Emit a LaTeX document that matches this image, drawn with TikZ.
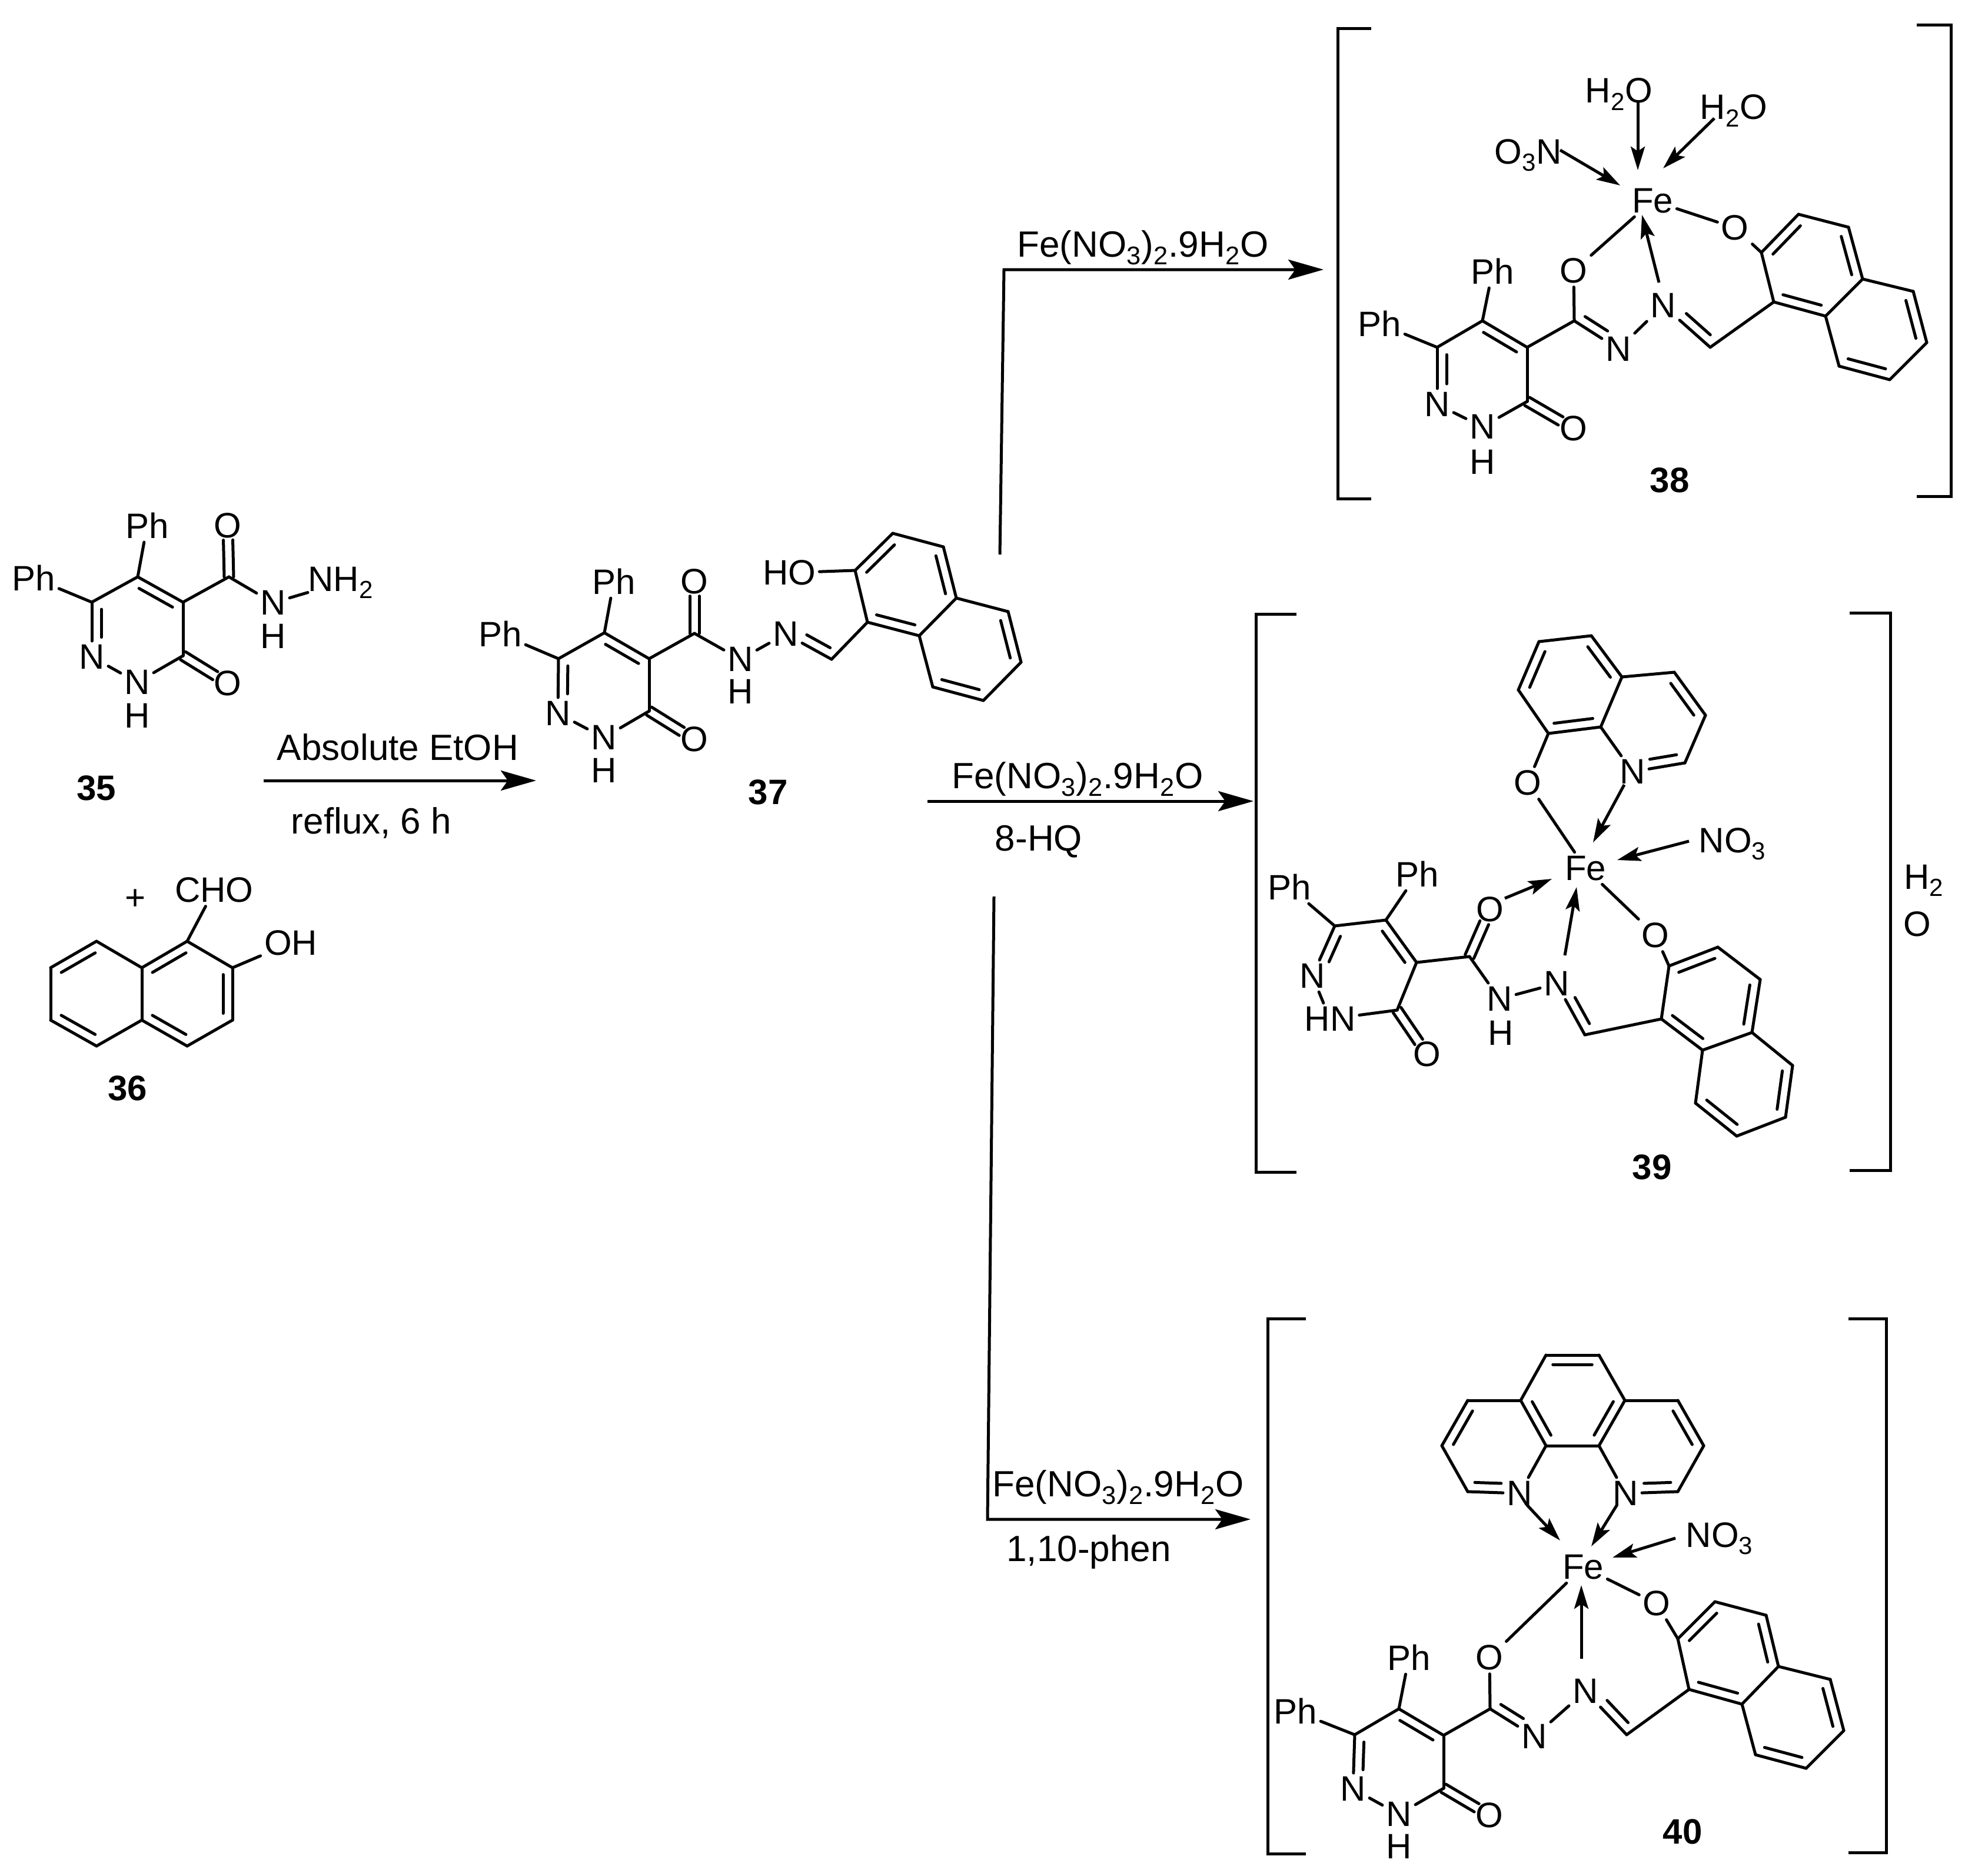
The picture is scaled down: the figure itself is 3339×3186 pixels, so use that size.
\documentclass[tikz,border=0pt]{standalone}
\usepackage{fontspec}
\setmainfont{Liberation Sans}
\usetikzlibrary{calc,arrows.meta}
\newcommand\tsub[1]{\textsubscript{#1}}
\tikzset{
  bond/.style={line width=2.5pt,line cap=round},
  atom/.style={inner sep=3pt,font=\fontsize{30}{32}\selectfont},
  hatom/.style={inner sep=0pt,font=\fontsize{30}{32}\selectfont},
  cond/.style={inner sep=0pt,font=\fontsize{31}{33}\selectfont},
  lab/.style={inner sep=0pt,font=\fontsize{30}{32}\selectfont\bfseries},
  plainmark/.style={inner sep=0pt,font=\fontsize{30}{32}\selectfont},
  dative/.style={line width=2.5pt,-{Stealth[length=20pt,width=12pt,inset=4pt]}},
  rxn/.style={line width=2.5pt,-{Stealth[length=30pt,width=17pt,inset=6pt]}},
  brk/.style={line width=2.5pt,line join=miter}
}
\newcommand\bnd[2]{\draw[bond] (#1) -- (#2);}
% second line of a double bond: {a}{b}{signed offset angle}{frac a}{frac b}
\newcommand\second[5]{\draw[bond] ($(#1)!#4!(#2)!8pt!#3:(#2)$) -- ($(#2)!#5!(#1)!8pt!-#3:(#1)$);}
\newcommand\dr[2]{\bnd{#1}{#2}\second{#1}{#2}{-90}{.13}{.13}}
\newcommand\drh[2]{\bnd{#1}{#2}\second{#1}{#2}{-90}{.13}{.36}}
\newcommand\dlh[2]{\bnd{#1}{#2}\second{#1}{#2}{90}{.13}{.36}}
\newcommand\dsym[2]{%
  \draw[bond] ($(#1)!4pt!90:(#2)$) -- ($(#1)!.72!(#2)!4pt!90:(#2)$);
  \draw[bond] ($(#1)!4pt!-90:(#2)$) -- ($(#1)!.72!(#2)!4pt!-90:(#2)$);}
% pyridazinone core
\newcommand\pyr[1]{%
  \dr{#1C5}{#1C4}\bnd{#1C6}{#1C5}\dlh{#1C6}{#1N1}\bnd{#1N1}{#1N2}\bnd{#1N2}{#1C3}
  \bnd{#1C3}{#1C4}\dsym{#1C3}{#1O3}\bnd{#1C5}{#1Pa}\bnd{#1C6}{#1Pb}\bnd{#1C4}{#1Cam}}
% naphthalene
\newcommand\naph[1]{%
  \bnd{#1A1}{#1A2}\dr{#1A2}{#1A3}\bnd{#1A3}{#1A4}\dr{#1A4}{#1Ax}\bnd{#1Ax}{#1Ay}\dr{#1Ay}{#1A1}
  \dr{#1A5}{#1A6}\bnd{#1A6}{#1A7}\dr{#1A7}{#1A8}\bnd{#1A8}{#1Ay}\bnd{#1Ax}{#1A5}}
\begin{document}
\begin{tikzpicture}[x=.5pt,y=-.5pt]
\useasboundingbox (0,0) rectangle (3339,3186);
% ---------- carbons and free ends
\foreach \nm/\x/\y in {
 aC5/234/980,aC6/156/1023,aC3/311/1114,aC4/311/1023,aCam/389/980,
 bA1/318/1599,bA2/395/1644,bA3/395/1733,bA4/318/1777,bAx/241/1733,bAy/241/1644,bA5/164/1777,bA6/86/1733,bA7/86/1644,bA8/164/1599,
 cC5/1027/1075,cC6/949/1119,cC3/1103/1208,cC4/1103/1119,cCam/1180/1076,cCH/1413/1120,
 cA1/1474/1057,cA2/1453/969,cA3/1517/906,cA4/1603/929,cAx/1625/1016,cAy/1562/1080,cA8/1585/1167,cA7/1671/1190,cA6/1735/1125,cA5/1713/1039,
 dC5/2519/545,dC6/2442/590,dC3/2595/682,dC4/2595/590,dCam/2675/545,dCH/2906/590,
 dA1/3014/513,dA2/2993/429,dA3/3056/364,dA4/3141/386,dAx/3165/474,dAy/3102/537,dA8/3125/622,dA7/3211/645,dA6/3274/582,dA5/3251/495,
 eC5/2355/1563,eC6/2268/1573,eC3/2374/1716,eC4/2407/1635,eCam/2497/1625,eCH/2693/1758,
 eA1/2823/1731,eA2/2836/1641,eA3/2919/1609,eA4/2991/1664,eAx/2977/1754,eAy/2893/1784,eA8/2881/1874,eA7/2951/1930,eA6/3034/1898,eA5/3046/1810,
 qC8/2631/1246,qCy/2720/1235,qCx/2756/1150,qC4/2845/1142,qC3/2898/1215,qC2/2863/1296,qC5/2704/1080,qC6/2615/1090,qC7/2580/1172,
 fC5/2377/2903,fC6/2302/2947,fC3/2453/3038,fC4/2453/2948,fCam/2532/2903,fCH/2764/2947,
 fA1/2870/2870,fA2/2851/2784,fA3/2914/2721,fA4/3001/2744,fAx/3022/2831,fAy/2960/2895,fA8/2983/2981,fA7/3069/3004,fA6/3133/2940,fA5/3110/2853,
 pLa/2627/2456,pRa/2717/2456,pLb/2584/2379,pRb/2761/2379,pT1/2627/2302,pT2/2717/2302,
 pL1/2494/2379,pL2/2450/2456,pL3/2494/2534,pR1/2851/2379,pR2/2895/2456,pR3/2851/2534,
 % arrow ends
 r1s/448/1326,r1e/911/1326,
 r2s/1699/942,r2k/1706/458,r2e/2249/458,
 r3s/1576/1361,r3e/2130/1361,
 r4s/1689/1523,r4k/1678/2581,r4e/2125/2581,
 dW1s/2783/174,dW1e/2783/289,dW2s/2913/201,dW2e/2826/286,dNOs/2651/255,dNOe/2753/315,dNs/2819/480,dNe/2790/365,
 eQs/2760/1333,eQe/2707/1431,eNOs/2870/1429,eNOe/2748/1461,eOs/2557/1526,eOe/2637/1493,eNs/2659/1623,eNe/2679/1507,
 fLs/2594/2556,fLe/2651/2617,fRs/2748/2556,fRe/2704/2627,fNOs/2847/2613,fNOe/2740/2646,fNs/2687/2818,fNe/2687/2693}
 \coordinate (\nm) at (\x,\y);
% ---------- atom labels
\foreach \nm/\lab/\x/\y in {
 aN1/N/156/1116,aN2/N/233/1159,aO3/O/387/1161,aPa/Ph/250/893,aPb/Ph/57/982,aOam/O/387/893,aNam/N/464/1024,
 bCHO/CHO/364/1512,bOH/OH/494/1602,
 cN1/N/948/1212,cN2/N/1026/1253,cO3/O/1180/1256,cPa/Ph/1043/988,cPb/Ph/850/1077,cOam/O/1180/988,cNam/N/1258/1120,cNim/N/1335/1077,cHO/HO/1341/973,
 dFe/Fe/2808/341,dOam/O/2674/460,dOn/O/2948/387,dN1/N/2442/687,dN2/N/2519/725,dO3/O/2674/728,dPa/Ph/2536/461,dPb/Ph/2344/550,dNam/N/2750/593,dNim/N/2826/519,
 eFe/Fe/2694/1475,qO/O/2596/1330,qN/N/2774/1311,eN1/N/2230/1658,eN2/HN/2260/1731,eO3/O/2425/1791,eOam/O/2532/1545,eNam/N/2548/1697,eNim/N/2645/1671,eOn/O/2813/1589,ePa/Ph/2408/1485,ePb/Ph/2191/1507,
 fFe/Fe/2690/2662,pNl/N/2582/2537,pNr/N/2762/2537,fOam/O/2531/2816,fOn/O/2815/2724,fN1/N/2299/3039,fN2/N/2377/3082,fO3/O/2531/3084,fNam/N/2607/2950,fNim/N/2694/2873,fPa/Ph/2394/2816,fPb/Ph/2201/2907,
 dW1/H\tsub{2}O/2751/160,dW2/H\tsub{2}O/2946/188,dNO/O\tsub{3}N/2597/264,eNO/NO\tsub{3}/2944/1434,fNO/NO\tsub{3}/2922/2614}
 \node[atom] (\nm) at (\x,\y) {\lab};
\foreach \nm/\lab/\x/\y in {
 aH1/H/233/1216,aH2/H/464/1081,cH1/H/1026/1309,cH2/H/1258/1175,dH/H/2519/785,eH/H/2550/1755,fH/H/2377/3137,
 wH/H\tsub{2}/3269/1496,wO/O/3258/1570}
 \node[hatom] (\nm) at (\x,\y) {\lab};
\node[hatom,anchor=west] (aNH) at (523,990) {NH\tsub{2}};
% ---------- compound numbers and plus
\foreach \nm/\lab/\x/\y in {l35/35/164/1339,l36/36/217/1849,l37/37/1305/1346,l38/38/2837/816,l39/39/2807/1983,l40/40/2859/3112}
 \node[lab] (\nm) at (\x,\y) {\lab};
\node[plainmark] (plus) at (230,1528) {+};
% ---------- conditions
\node[cond] (t1) at (676,1269) {Absolute EtOH};
\node[cond] (t2) at (631,1398) {reflux, 6 h};
\node[cond] (t3) at (1942,421) {Fe(NO\tsub{3})\tsub{2}.9H\tsub{2}O};
\node[cond] (t4) at (1831,1324) {Fe(NO\tsub{3})\tsub{2}.9H\tsub{2}O};
\node[cond] (t5) at (1765,1430) {8-HQ};
\node[cond] (t6) at (1900,2527) {Fe(NO\tsub{3})\tsub{2}.9H\tsub{2}O};
\node[cond] (t7) at (1850,2636) {1,10-phen};
% ---------- reaction arrows
\draw[rxn] (r1s) -- (r1e);
\draw[rxn] (r2s) -- (r2k) -- (r2e);
\draw[rxn] (r3s) -- (r3e);
\draw[rxn] (r4s) -- (r4k) -- (r4e);
% ---------- 35
\pyr{a}\dsym{aCam}{aOam}\bnd{aCam}{aNam}\bnd{aNam}{aNH}
% ---------- 36
\naph{b}\bnd{bA1}{bCHO}\bnd{bA2}{bOH}
% ---------- 37
\pyr{c}\dsym{cCam}{cOam}\bnd{cCam}{cNam}\bnd{cNam}{cNim}\drh{cCH}{cNim}\bnd{cCH}{cA1}\naph{c}\bnd{cA2}{cHO}
% ---------- 38
\pyr{d}\bnd{dCam}{dOam}\dlh{dCam}{dNam}\bnd{dNam}{dNim}\drh{dCH}{dNim}\bnd{dCH}{dA1}\naph{d}\bnd{dA2}{dOn}
\bnd{dFe}{dOam}\bnd{dFe}{dOn}
\draw[dative] (dW1s) -- (dW1e);
\draw[dative] (dW2s) -- (dW2e);
\draw[dative] (dNOs) -- (dNOe);
\draw[dative] (dNs) -- (dNe);
% ---------- 39
\pyr{e}\dsym{eCam}{eOam}\bnd{eCam}{eNam}\bnd{eNam}{eNim}\drh{eCH}{eNim}\bnd{eCH}{eA1}\naph{e}\bnd{eA2}{eOn}
\bnd{eFe}{eOn}\bnd{eFe}{qO}
\bnd{qC8}{qO}\bnd{qCy}{qN}\bnd{qCx}{qCy}\bnd{qC8}{qC7}\bnd{qC6}{qC5}\bnd{qCx}{qC4}\bnd{qC3}{qC2}
\dr{qC7}{qC6}\dr{qC5}{qCx}\dr{qCy}{qC8}\dr{qC4}{qC3}\drh{qC2}{qN}
\draw[dative] (eQs) -- (eQe);
\draw[dative] (eNOs) -- (eNOe);
\draw[dative] (eOs) -- (eOe);
\draw[dative] (eNs) -- (eNe);
% ---------- 40
\pyr{f}\bnd{fCam}{fOam}\dlh{fCam}{fNam}\bnd{fNam}{fNim}\drh{fCH}{fNim}\bnd{fCH}{fA1}\naph{f}\bnd{fA2}{fOn}
\bnd{fFe}{fOam}\bnd{fFe}{fOn}
\dr{pT1}{pT2}\bnd{pT2}{pRb}\dr{pRb}{pRa}\bnd{pRa}{pLa}\dr{pLa}{pLb}\bnd{pLb}{pT1}
\bnd{pLb}{pL1}\dr{pL2}{pL1}\bnd{pL2}{pL3}\dlh{pL3}{pNl}\bnd{pNl}{pLa}
\bnd{pRb}{pR1}\dr{pR1}{pR2}\bnd{pR2}{pR3}\drh{pR3}{pNr}\bnd{pNr}{pRa}
\draw[dative] (fLs) -- (fLe);
\draw[dative] (fRs) -- (fRe);
\draw[dative] (fNOs) -- (fNOe);
\draw[dative] (fNs) -- (fNe);
% ---------- brackets
\draw[brk] (2330,48) -- (2273,48) -- (2273,847) -- (2330,847);
\draw[brk] (3257,42) -- (3315,42) -- (3315,843) -- (3257,843);
\draw[brk] (2203,1043) -- (2134,1043) -- (2134,1991) -- (2203,1991);
\draw[brk] (3143,1041) -- (3212,1041) -- (3212,1988) -- (3143,1988);
\draw[brk] (2219,2240) -- (2154,2240) -- (2154,3149) -- (2219,3149);
\draw[brk] (3141,2240) -- (3205,2240) -- (3205,3147) -- (3141,3147);
\end{tikzpicture}
\end{document}
